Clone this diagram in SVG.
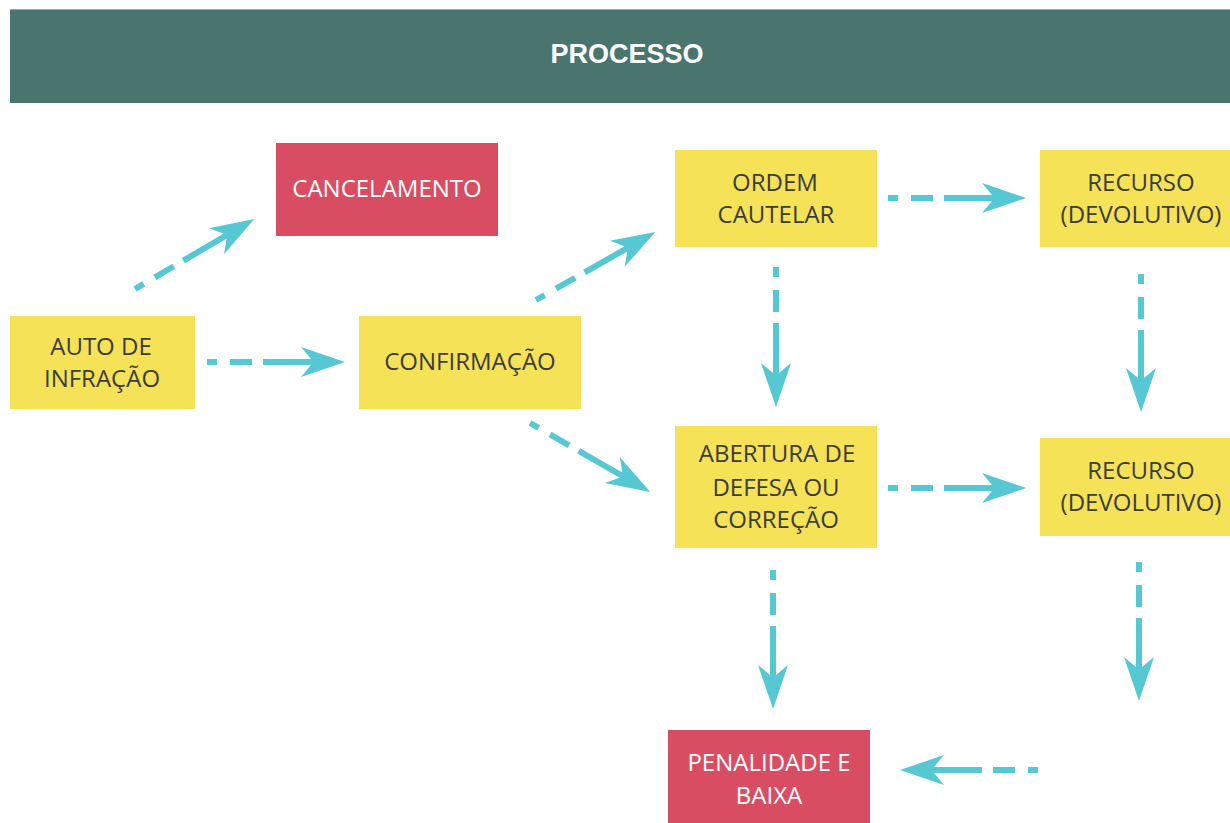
<svg xmlns="http://www.w3.org/2000/svg" width="1230" height="823" viewBox="0 0 1230 823">
<defs>
<style>
.y{fill:#f5e257}
.r{fill:#d94d62}
.t{font-family:"Open Sans","Noto Sans",sans-serif;font-size:24px;text-anchor:middle;fill:#3c3c3c}
.w{fill:#ffffff}
.c{stroke:#56c8d3;stroke-width:6;fill:none;stroke-dasharray:10 13 22 11 400;marker-end:url(#ah)}
</style>
<marker id="ah" viewBox="-46 -17 48 34" markerWidth="48" markerHeight="34" refX="-12" refY="0" orient="auto" markerUnits="userSpaceOnUse">
<polygon points="0,0 -44,-15 -34,-3 -34,3 -44,15" fill="#56c8d3"/>
</marker>
</defs>
<rect x="0" y="0" width="1230" height="823" fill="#ffffff"/>
<g id="header">
<rect x="10" y="9" width="1220" height="94" fill="#4a756f"/>
<line x1="10" y1="9.5" x2="1230" y2="9.5" stroke="#9aa9a6" stroke-width="1"/>
<text x="627" y="63" font-family="'Liberation Sans',Arial,sans-serif" font-size="27" font-weight="bold" text-anchor="middle" fill="#ffffff">PROCESSO</text>
</g>
<g id="connectors">
<path class="c" d="M207,362 L333,362"/>
<path class="c" d="M135,289 L244,225"/>
<path class="c" d="M536,300 L645,238"/>
<path class="c" d="M530,423 L640,486"/>
<path class="c" d="M888,198 L1014,198"/>
<path class="c" d="M776,267 L776,395"/>
<path class="c" d="M1141,274 L1141,400"/>
<path class="c" d="M888,488 L1014,488"/>
<path class="c" d="M773,570 L773,697"/>
<path class="c" d="M1139,562 L1139,689"/>
<path class="c" d="M1038,770 L912,770"/>
</g>
<g id="auto">
<rect class="y" x="10" y="316" width="185" height="93"/>
<text class="t" x="101" y="355">AUTO DE</text>
<text class="t" x="102" y="387">INFRAÇÃO</text>
</g>
<g id="cancelamento">
<rect class="r" x="276" y="143" width="222" height="93"/>
<text class="t w" x="387" y="197">CANCELAMENTO</text>
</g>
<g id="confirmacao">
<rect class="y" x="359" y="316" width="222" height="93"/>
<text class="t" x="470" y="370">CONFIRMAÇÃO</text>
</g>
<g id="ordem">
<rect class="y" x="675" y="150" width="202" height="97"/>
<text class="t" x="775" y="191">ORDEM</text>
<text class="t" x="776" y="223">CAUTELAR</text>
</g>
<g id="recurso1">
<rect class="y" x="1040" y="150" width="190" height="97"/>
<text class="t" x="1141" y="191">RECURSO</text>
<text class="t" x="1141" y="223">(DEVOLUTIVO)</text>
</g>
<g id="abertura">
<rect class="y" x="675" y="426" width="202" height="122"/>
<text class="t" x="777" y="462">ABERTURA DE</text>
<text class="t" x="776" y="496">DEFESA OU</text>
<text class="t" x="776" y="528">CORREÇÃO</text>
</g>
<g id="recurso2">
<rect class="y" x="1040" y="438" width="190" height="98"/>
<text class="t" x="1141" y="479">RECURSO</text>
<text class="t" x="1141" y="511">(DEVOLUTIVO)</text>
</g>
<g id="penalidade">
<rect class="r" x="668" y="730" width="202" height="93"/>
<text class="t w" x="769" y="771">PENALIDADE E</text>
<text class="t w" x="769" y="804">BAIXA</text>
</g>
</svg>
